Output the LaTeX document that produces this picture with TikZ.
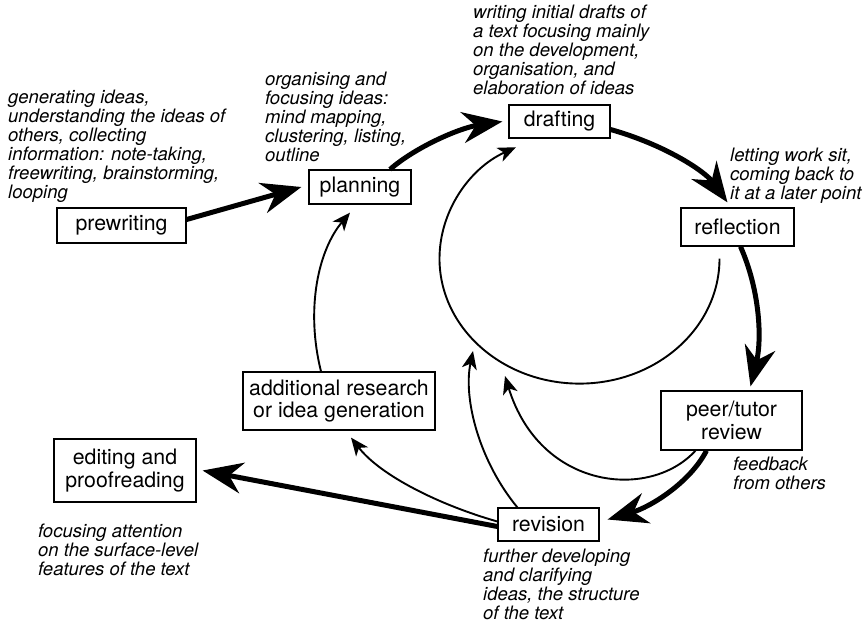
\documentclass[tikz,border=0pt]{standalone}
\usepackage{fontspec}
\setmainfont{TeX Gyre Heros}
\usetikzlibrary{arrows.meta}

\tikzset{
  stagebox/.style={draw, line width=1.2pt, inner sep=0pt, align=center,
    font=\fontsize{21.3}{22.5}\selectfont},
  note/.style={anchor=north west, inner sep=0pt, align=left,
    font=\fontsize{18.5}{19}\selectfont\itshape},
  bigarrow/.style={line width=5pt, -{Stealth[length=40pt,width=31pt,inset=13pt]}},
  smallarrow/.style={line width=1.9pt, -{Stealth[length=18pt,width=15pt,inset=5pt]}}
}

\begin{document}
\begin{tikzpicture}[x=1pt,y=-1pt]
\useasboundingbox (0,0) rectangle (868,625);

% the stages
\node[stagebox, minimum width=129pt, minimum height=35pt] (prewriting) at (121.5,225.5) {prewriting};
\node[stagebox, minimum width=102pt, minimum height=34pt] (planning) at (360,187) {planning};
\node[stagebox, minimum width=101pt, minimum height=33pt] (drafting) at (559.5,121.5) {drafting};
\node[stagebox, minimum width=113pt, minimum height=38pt] (reflection) at (737.5,227) {reflection};
\node[stagebox, minimum width=141pt, minimum height=59pt] (review) at (731.5,420.5) {peer/tutor\\review};
\node[stagebox, minimum width=101pt, minimum height=33pt] (revision) at (548.5,524.5) {revision};
\node[stagebox, minimum width=192pt, minimum height=58pt] (research) at (339,401) {additional research\\or idea generation};
\node[stagebox, minimum width=142pt, minimum height=63pt] (editing) at (125,470.5) {editing and\\proofreading};

% what each stage means
\node[note] (prewritingnote) at (8,90) {generating ideas,\\understanding the ideas of\\others, collecting\\information: note-taking,\\freewriting, brainstorming,\\looping};
\node[note] (planningnote) at (265,72) {organising and\\focusing ideas:\\mind mapping,\\clustering, listing,\\outline};
\node[note] (draftingnote) at (473,5) {writing initial drafts of\\a text focusing mainly\\on the development,\\organisation, and\\elaboration of ideas};
\node[note] (reflectionnote) at (730,148) {letting work sit,\\coming back to\\it at a later point};
\node[note] (reviewnote) at (733,457) {feedback\\from others};
\node[note] (revisionnote) at (483,549) {further developing\\and clarifying\\ideas, the structure\\of the text};
\node[note] (editingnote) at (38,524) {focusing attention\\on the surface-level\\features of the text};

\coordinate (loopin) at (473,351);
\coordinate (loopout) at (505,376);

% main cycle
\draw[bigarrow] ([yshift=6pt]prewriting.east) -- ([xshift=-7pt]planning.west);
\draw[bigarrow] ([xshift=30pt]planning.north) .. controls +(25,-22) and +(-43,6.5) .. ([xshift=-6pt]drafting.west);
\draw[bigarrow] ([yshift=-8pt]drafting.east) .. controls +(55,15.5) and +(-22.5,-31) .. ([xshift=-10pt,yshift=5pt]reflection.north);
\draw[bigarrow] ([xshift=3pt]reflection.south) .. controls +(19.5,44) and +(11.5,-47) .. ([xshift=19pt,yshift=4pt]review.north);
\draw[bigarrow] ([xshift=-25pt]review.south) .. controls +(-16.5,32) and +(43,-12.5) .. ([xshift=8pt,yshift=5pt]revision.east);
\draw[bigarrow] ([yshift=-2pt]revision.west) -- ([xshift=6pt]editing.east);

% loops back
\draw[smallarrow] ([xshift=-18pt,yshift=-12pt]reflection.south) arc[start angle=0, end angle=243, x radius=140, y radius=125];
\draw[smallarrow] ([xshift=-36pt]review.south) .. controls +(-45.5,50) and +(35,114) .. (loopout);
\draw[smallarrow] ([xshift=20pt]revision.north west) .. controls +(-38,-46) and +(-10,48) .. (loopin);
\draw[smallarrow] ([yshift=3pt]revision.west) .. controls +(-58,-16.5) and +(29.5,38) .. ([xshift=12pt,yshift=-7pt]research.south);
\draw[smallarrow] ([xshift=-18pt]research.north) .. controls +(-15.5,-62) and +(-32,38) .. ([xshift=-10pt,yshift=-8pt]planning.south);

\end{tikzpicture}
\end{document}
